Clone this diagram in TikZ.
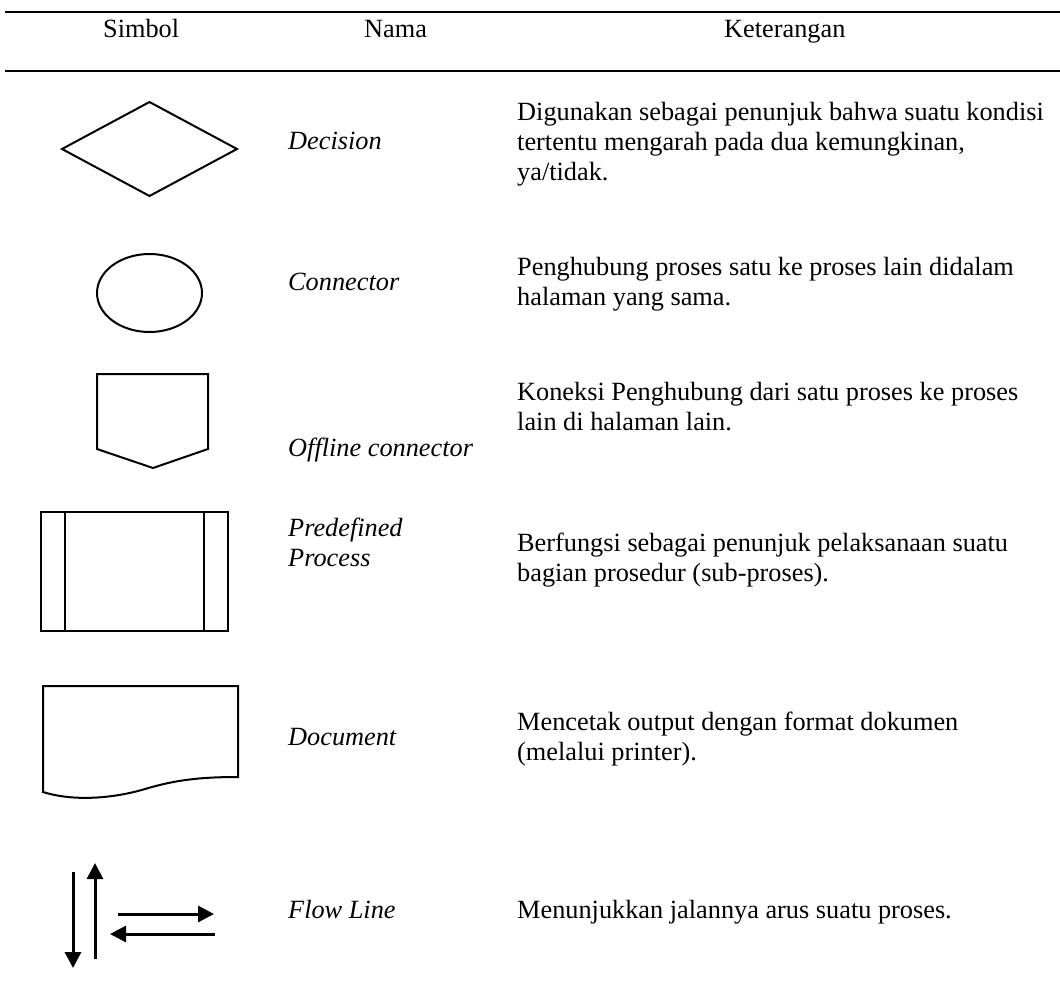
\documentclass[tikz,border=0pt]{standalone}
\usepackage{fontspec}
\setmainfont{Liberation Serif}
\usetikzlibrary{arrows.meta}
\begin{document}
\begin{tikzpicture}[x=1pt,y=-1pt,
  txt/.style={anchor=base west,inner sep=0pt,font=\fontsize{26.3pt}{30pt}\selectfont},
  nm/.style={anchor=base west,inner sep=0pt,font=\fontsize{26.3pt}{30pt}\selectfont\itshape},
  sym/.style={line width=2pt,line join=miter},
  tablerule/.style={line width=2.6pt},
  flow/.style={line width=3pt,-{Triangle[length=16pt,width=16pt]}}]
\useasboundingbox (0,0) rectangle (1060,996);

% table rules
\coordinate (r1a) at (5,12);   \coordinate (r1b) at (1060,12);
\coordinate (r2a) at (5,71);   \coordinate (r2b) at (1060,71);
\draw[tablerule] (r1a) -- (r1b);
\draw[tablerule] (r2a) -- (r2b);

% header
\node[txt] (hSym) at (103,37) {Simbol};
\node[txt] (hNama) at (364,37) {Nama};
\node[txt] (hKet) at (724,37) {Keterangan};

% --- Decision
\draw[sym] (62,149) -- (149.5,102) -- (237,149) -- (149.5,196) -- cycle;
\node[nm] (nDec) at (288,149) {Decision};
\node[txt] (dDec1) at (517,120) {Digunakan sebagai penunjuk bahwa suatu kondisi};
\node[txt] (dDec2) at (517,150) {tertentu mengarah pada dua kemungkinan,};
\node[txt] (dDec3) at (517,180) {ya/tidak.};

% --- Connector
\draw[sym] (149.5,293) ellipse [x radius=52.5, y radius=39];
\node[nm] (nCon) at (288,290) {Connector};
\node[txt] (dCon1) at (517,275) {Penghubung proses satu ke proses lain didalam};
\node[txt] (dCon2) at (517,305) {halaman yang sama.};

% --- Offline connector
\draw[sym] (97,374) -- (208,374) -- (208,449) -- (153,468) -- (97,449) -- cycle;
\node[nm] (nOff) at (288,456) {Offline connector};
\node[txt] (dOff1) at (517,400) {Koneksi Penghubung dari satu proses ke proses};
\node[txt] (dOff2) at (517,430) {lain di halaman lain.};

% --- Predefined process
\draw[line width=2.5pt] (41,512) rectangle (228,631);
\draw[line width=2.5pt] (65,512) -- (65,631);
\draw[line width=2.5pt] (204,512) -- (204,631);
\node[nm] (nPre1) at (288,536) {Predefined};
\node[nm] (nPre2) at (288,566) {Process};
\node[txt] (dPre1) at (517,551) {Berfungsi sebagai penunjuk pelaksanaan suatu};
\node[txt] (dPre2) at (517,581) {bagian prosedur (sub-proses).};

% --- Document
\draw[sym] (43,686) -- (238,686) -- (238,777)
  .. controls (200,777) and (175,780) .. (145,789)
  .. controls (115,798) and (75,802) .. (43,792) -- cycle;
\node[nm] (nDoc) at (288,745) {Document};
\node[txt] (dDoc1) at (517,730) {Mencetak output dengan format dokumen};
\node[txt] (dDoc2) at (517,760) {(melalui printer).};

% --- Flow line
\coordinate (dnA) at (73,872);  \coordinate (dnB) at (73,968);
\coordinate (upA) at (95,959);  \coordinate (upB) at (95,863);
\coordinate (rtA) at (118,914); \coordinate (rtB) at (214,914);
\coordinate (ltA) at (215,934); \coordinate (ltB) at (110,934);
\draw[flow] (dnA) -- (dnB);
\draw[flow] (upA) -- (upB);
\draw[flow] (rtA) -- (rtB);
\draw[flow] (ltA) -- (ltB);
\node[nm] (nFlow) at (288,918) {Flow Line};
\node[txt] (dFlow) at (517,918) {Menunjukkan jalannya arus suatu proses.};
\end{tikzpicture}
\end{document}
